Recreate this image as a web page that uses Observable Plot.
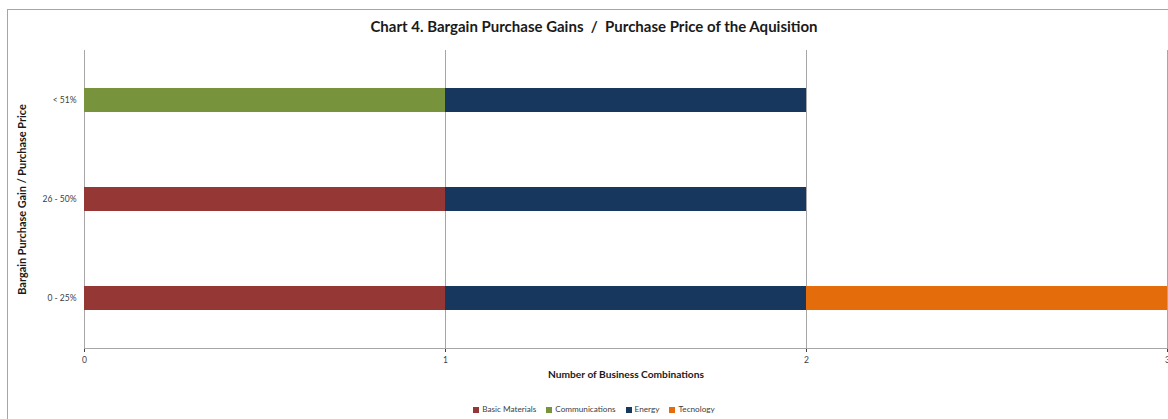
<!DOCTYPE html>
<html>
<head>
<meta charset="utf-8">
<script src="https://cdn.jsdelivr.net/npm/d3@7"></script>
<script src="https://cdn.jsdelivr.net/npm/@observablehq/plot@0.6"></script>
<style>
  html, body { margin: 0; padding: 0; background: #fff; }
  body { width: 1168px; height: 419px; position: relative; overflow: hidden; font-family: Lato, "Open Sans", sans-serif; }
  #box { position: absolute; left: 7px; top: 9px; width: 1300px; height: 500px; border: 1px solid #a6a6a6; box-sizing: border-box; }
  #title { position: absolute; left: 0; width: 1188px; top: 17px; text-align: center; font-weight: bold; font-size: 15px; color: #1a1a1a; }
  #chart { position: absolute; left: 0; top: 0; }
  #legend { position: absolute; top: 404px; left: 0; width: 1188px; text-align: center; font-size: 8.2px; color: #404040; }
  #legend span.item { margin: 0 5px; white-space: nowrap; }
  #legend span.sw { display: inline-block; width: 6px; height: 6px; margin-right: 3px; vertical-align: -0.5px; }
</style>
</head>
<body>
<div id="box"></div>
<div id="title">Chart 4. Bargain Purchase Gains&nbsp; / &nbsp;Purchase Price of the Aquisition</div>
<div id="chart"></div>
<div id="legend"></div>
<script>
const categories = ["0 - 25%", "26 - 50%", "< 51%"];
const sectors = ["Basic Materials", "Communications", "Energy", "Tecnology"];
const colors = ["#953735", "#77933c", "#17375e", "#e46c0a"];
const basicMaterials = [1, 1, 0];
const communications = [0, 0, 1];
const energy = [1, 1, 1];
const tecnology = [1, 0, 0];
const xTicks = [0, 1, 2, 3];

const seriesValues = [basicMaterials, communications, energy, tecnology];
const rows = [];
categories.forEach((c, i) => {
  sectors.forEach((s, j) => {
    if (seriesValues[j][i] > 0) rows.push({category: c, sector: s, value: seriesValues[j][i], order: j});
  });
});

const plot = Plot.plot({
  width: 1168,
  height: 395,
  marginLeft: 84,
  marginRight: 1,
  marginTop: 50,
  marginBottom: 47,
  style: {fontFamily: "Lato, 'Open Sans', sans-serif", fontSize: "8.5px", color: "#404040", background: "transparent"},
  x: {domain: [0, 3], ticks: xTicks, tickSize: 4, tickPadding: 4, label: null, tickFormat: d3.format("d")},
  y: {domain: categories.slice().reverse(), paddingInner: 0.76, paddingOuter: 0.38, tickSize: 0, tickPadding: 8, label: null},
  color: {domain: sectors, range: colors},
  marks: [
    Plot.ruleX(xTicks, {stroke: "#a6a6a6", strokeWidth: 1}),
    Plot.frame({anchor: "bottom", stroke: "#a6a6a6"}),
    Plot.barX(rows, Plot.stackX({x: "value", y: "category", fill: "sector", order: "order", inset: 0})),
    Plot.text(["Number of Business Combinations"], {frameAnchor: "bottom", dy: 29, fontWeight: "bold", fontSize: 10.2, fill: "#1a1a1a"}),
    Plot.text(["Bargain Purchase Gain / Purchase Price"], {frameAnchor: "left", textAnchor: "middle", dx: -62, rotate: -90, fontWeight: "bold", fontSize: 10.9, fill: "#1a1a1a"})
  ]
});
document.getElementById("chart").appendChild(plot);

const legend = document.getElementById("legend");
sectors.forEach((s, i) => {
  const item = document.createElement("span");
  item.className = "item";
  const sw = document.createElement("span");
  sw.className = "sw";
  sw.style.background = colors[i];
  item.appendChild(sw);
  item.appendChild(document.createTextNode(s));
  legend.appendChild(item);
});
</script>
</body>
</html>
